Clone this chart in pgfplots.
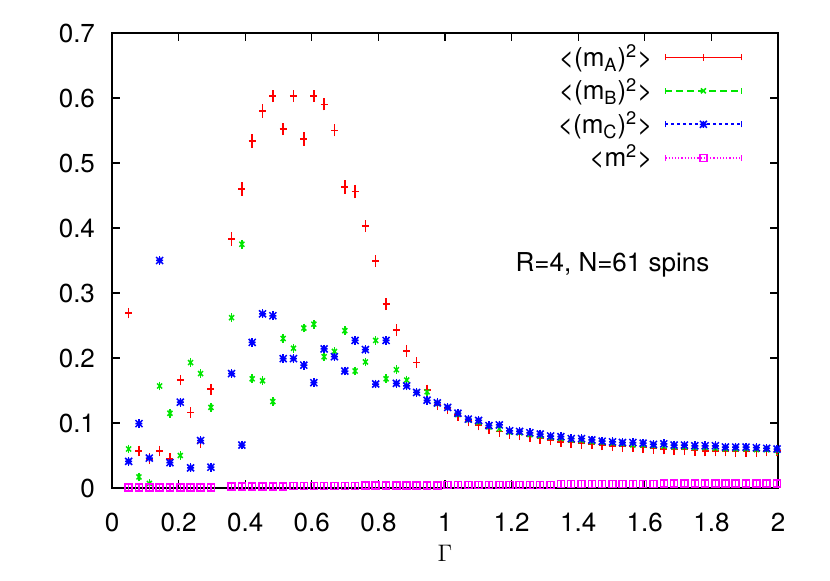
\documentclass[border=0pt]{standalone}
\usepackage{pgfplots}
\pgfplotsset{compat=1.18}
\usepackage{pgfplotstable}
\usepackage{fontspec}
\setmainfont{TeX Gyre Heros}

\definecolor{gpred}{RGB}{255,0,0}
\definecolor{gpgreen}{RGB}{0,230,0}
\definecolor{gpblue}{RGB}{0,0,255}
\definecolor{gpmag}{RGB}{255,0,255}

% gnuplot style "*" : a plus and a cross on top of each other
\pgfdeclareplotmark{gpstar}{%
  \pgfpathmoveto{\pgfqpoint{-\pgfplotmarksize}{0pt}}%
  \pgfpathlineto{\pgfqpoint{\pgfplotmarksize}{0pt}}%
  \pgfpathmoveto{\pgfqpoint{0pt}{-\pgfplotmarksize}}%
  \pgfpathlineto{\pgfqpoint{0pt}{\pgfplotmarksize}}%
  \pgfpathmoveto{\pgfqpoint{-\pgfplotmarksize}{-\pgfplotmarksize}}%
  \pgfpathlineto{\pgfqpoint{\pgfplotmarksize}{\pgfplotmarksize}}%
  \pgfpathmoveto{\pgfqpoint{-\pgfplotmarksize}{\pgfplotmarksize}}%
  \pgfpathlineto{\pgfqpoint{\pgfplotmarksize}{-\pgfplotmarksize}}%
  \pgfusepathqstroke}

% x, <(mA)^2>, err, <(mB)^2>, err, <(mC)^2>, err, <m^2>, err
\pgfplotstableread{
x     r     re    g     ge     b     be     m     me
0.050 0.269 0.003 0.060 0.0015 0.041 0.0015 0.001 0.0005
0.081 0.057 0.003 0.017 0.0015 0.099 0.0015 0.001 0.0005
0.112 0.045 0.003 0.007 0.0015 0.046 0.0015 0.001 0.0005
0.143 0.057 0.003 0.157 0.0015 0.350 0.0015 0.001 0.0005
0.174 0.045 0.003 0.115 0.0015 0.039 0.0015 0.001 0.0005
0.205 0.166 0.003 0.050 0.0015 0.132 0.0015 0.001 0.0005
0.236 0.116 0.003 0.193 0.0015 0.031 0.0015 0.001 0.0005
0.266 0.070 0.003 0.176 0.0015 0.073 0.0015 0.001 0.0005
0.297 0.152 0.003 0.124 0.0015 0.032 0.0015 0.001 0.0005
0.359 0.383 0.005 0.262 0.0015 0.176 0.0015 0.002 0.0005
0.390 0.460 0.005 0.375 0.0015 0.066 0.0015 0.002 0.0005
0.421 0.534 0.005 0.168 0.0015 0.224 0.0015 0.002 0.0005
0.452 0.580 0.005 0.165 0.0015 0.268 0.0015 0.002 0.0005
0.483 0.603 0.004 0.133 0.0015 0.265 0.0015 0.002 0.0005
0.514 0.552 0.004 0.230 0.0015 0.199 0.0015 0.002 0.0005
0.545 0.603 0.004 0.215 0.0015 0.199 0.0015 0.003 0.0005
0.576 0.537 0.005 0.246 0.0015 0.189 0.0015 0.003 0.0005
0.606 0.603 0.004 0.252 0.0015 0.162 0.0015 0.003 0.0005
0.637 0.590 0.004 0.202 0.0015 0.214 0.0015 0.003 0.0005
0.668 0.550 0.004 0.210 0.0015 0.202 0.0015 0.003 0.0005
0.699 0.463 0.005 0.242 0.0015 0.180 0.0015 0.003 0.0005
0.730 0.456 0.005 0.180 0.0015 0.227 0.0015 0.003 0.0005
0.761 0.403 0.004 0.194 0.0015 0.213 0.0015 0.004 0.0005
0.792 0.349 0.004 0.227 0.0015 0.160 0.0015 0.004 0.0005
0.823 0.283 0.004 0.168 0.0015 0.227 0.0015 0.004 0.0005
0.854 0.243 0.004 0.182 0.0015 0.161 0.0015 0.004 0.0005
0.885 0.211 0.004 0.166 0.0015 0.157 0.0015 0.004 0.0005
0.915 0.193 0.003 0.147 0.0015 0.147 0.0015 0.004 0.0005
0.946 0.151 0.003 0.148 0.0015 0.135 0.0015 0.004 0.0005
0.977 0.128 0.003 0.130 0.0015 0.131 0.0015 0.004 0.0005
1.008 0.122 0.003 0.124 0.0015 0.124 0.0015 0.005 0.0005
1.039 0.112 0.003 0.113 0.0015 0.115 0.0015 0.005 0.0005
1.070 0.103 0.003 0.105 0.0015 0.106 0.0015 0.005 0.0005
1.101 0.097 0.003 0.101 0.0015 0.104 0.0015 0.005 0.0005
1.132 0.092 0.003 0.094 0.0015 0.096 0.0015 0.005 0.0005
1.163 0.087 0.003 0.091 0.0015 0.097 0.0015 0.005 0.0005
1.194 0.084 0.003 0.086 0.0015 0.088 0.0015 0.005 0.0005
1.224 0.082 0.003 0.085 0.0015 0.087 0.0015 0.005 0.0005
1.255 0.079 0.003 0.082 0.0015 0.085 0.0015 0.005 0.0005
1.286 0.076 0.003 0.080 0.0015 0.083 0.0015 0.005 0.0005
1.317 0.074 0.003 0.078 0.0015 0.080 0.0015 0.005 0.0005
1.348 0.071 0.003 0.076 0.0015 0.079 0.0015 0.006 0.0005
1.379 0.070 0.003 0.074 0.0015 0.076 0.0015 0.006 0.0005
1.410 0.069 0.003 0.073 0.0015 0.076 0.0015 0.006 0.0005
1.441 0.068 0.003 0.071 0.0015 0.074 0.0015 0.006 0.0005
1.472 0.066 0.003 0.070 0.0015 0.072 0.0015 0.006 0.0005
1.503 0.065 0.003 0.069 0.0015 0.071 0.0015 0.006 0.0005
1.533 0.064 0.003 0.068 0.0015 0.070 0.0015 0.006 0.0005
1.564 0.064 0.003 0.066 0.0015 0.070 0.0015 0.006 0.0005
1.595 0.062 0.003 0.066 0.0015 0.069 0.0015 0.006 0.0005
1.626 0.061 0.003 0.065 0.0015 0.067 0.0015 0.006 0.0005
1.657 0.060 0.003 0.064 0.0015 0.068 0.0015 0.007 0.0005
1.688 0.059 0.003 0.063 0.0015 0.066 0.0015 0.007 0.0005
1.719 0.059 0.003 0.063 0.0015 0.066 0.0015 0.007 0.0005
1.750 0.058 0.003 0.062 0.0015 0.065 0.0015 0.007 0.0005
1.781 0.057 0.003 0.062 0.0015 0.065 0.0015 0.007 0.0005
1.812 0.057 0.003 0.061 0.0015 0.065 0.0015 0.007 0.0005
1.842 0.057 0.003 0.060 0.0015 0.063 0.0015 0.007 0.0005
1.873 0.056 0.003 0.060 0.0015 0.063 0.0015 0.007 0.0005
1.904 0.056 0.003 0.060 0.0015 0.063 0.0015 0.007 0.0005
1.935 0.056 0.003 0.059 0.0015 0.062 0.0015 0.007 0.0005
1.966 0.057 0.003 0.059 0.0015 0.061 0.0015 0.007 0.0005
1.997 0.057 0.003 0.058 0.0015 0.060 0.0015 0.007 0.0005
}\datatab

\pgfplotsset{
  % error bars alone, drawn as their own (forgotten) plot
  gperr/.style={forget plot, draw=none, mark=none,
    error bars/y dir=both, error bars/y explicit,
    error bars/error bar style={draw=#1, line width=0.75bp, solid},
    error bars/error mark options={draw=#1, mark size=1.7bp, line width=0.75bp, solid}},
  gpkey/.style 2 args={legend image code/.code={%
    \draw[draw=#1, #2, line width=0.9bp] (0bp,0bp) -- (38bp,0bp);
    \draw[draw=#1, solid, line width=0.9bp] (0bp,-1.5bp) -- (0bp,1.5bp) (38bp,-1.5bp) -- (38bp,1.5bp);
    \draw[##1] plot coordinates {(19bp,0bp)};}},
  gpmk/.style={only marks, mark size=1.75bp, mark options={solid, draw=#1, line width=0.75bp}},
}

\begin{document}
\fontsize{13bp}{15.5bp}\selectfont
\begin{tikzpicture}
\useasboundingbox (-56bp,-46.5bp) rectangle (359bp,244bp);
\begin{axis}[
  scale only axis,
  width=333bp, height=227.5bp,
  xmin=0, xmax=2, ymin=0, ymax=0.7,
  xtick={0,0.2,0.4,0.6,0.8,1,1.2,1.4,1.6,1.8,2},
  ytick={0,0.1,0.2,0.3,0.4,0.5,0.6,0.7},
  /pgf/number format/assume math mode=true,
  tick align=inside, tick pos=both,
  major tick length=4bp,
  tick style={line width=0.6bp, black},
  axis line style={line width=0.7bp},
  xticklabel style={yshift=-8bp},
  yticklabel style={xshift=-4bp},
  xlabel={$\Gamma$},
  xlabel style={at={(axis description cs:0.5,-0.143)}, anchor=center},
  clip=false,
  legend plot pos=right,
  legend cell align=right,
  legend style={draw=none, fill=none, inner sep=0pt,
    at={(0.947,0.984)}, anchor=north east, row sep=0bp, column sep=4bp},
]
% <(mA)^2>
\addplot[gperr=gpred] table[x=x, y=r, y error=re] {\datatab};
\addplot[mark=+, gpmk=gpred, gpkey={gpred}{solid}] table[x=x, y=r] {\datatab};
\addlegendentry{<(m\textsubscript{A})\textsuperscript{2}>}
% <(mB)^2>
\addplot[gperr=gpgreen] table[x=x, y=g, y error=ge] {\datatab};
\addplot[mark=x, gpmk=gpgreen, gpkey={gpgreen}{dash pattern=on 3.5bp off 2bp}]
  table[x=x, y=g] {\datatab};
\addlegendentry{<(m\textsubscript{B})\textsuperscript{2}>}
% <(mC)^2>
\addplot[gperr=gpblue] table[x=x, y=b, y error=be] {\datatab};
\addplot[mark=gpstar, gpmk=gpblue, gpkey={gpblue}{dash pattern=on 1.5bp off 1.5bp}]
  table[x=x, y=b] {\datatab};
\addlegendentry{<(m\textsubscript{C})\textsuperscript{2}>}
% <m^2>
\addplot[gperr=gpmag] table[x=x, y=m, y error=me] {\datatab};
\addplot[mark=square, gpmk=gpmag, gpkey={gpmag}{dash pattern=on 0.6bp off 1bp}]
  table[x=x, y=m] {\datatab};
\addlegendentry{<m\textsuperscript{2}>}
\node[anchor=center] at (axis cs:1.503,0.343) {R=4, N=61 spins};
\end{axis}
\end{tikzpicture}
\end{document}
